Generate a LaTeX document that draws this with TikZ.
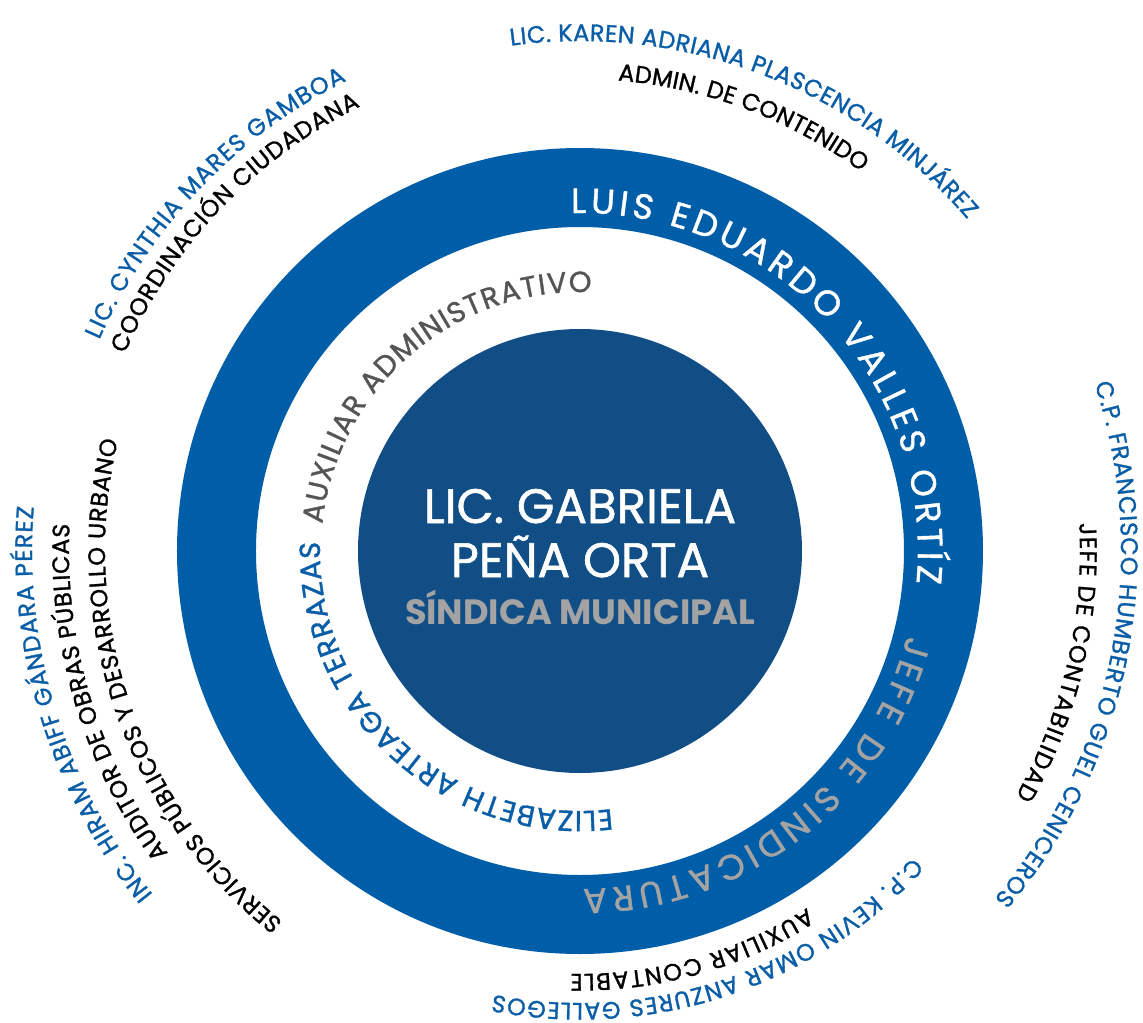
\documentclass[tikz,border=0pt]{standalone}
\usepackage{fontspec}
\setmainfont{Poppins}[UprightFeatures={FakeBold=1.2}]
\usetikzlibrary{decorations.text}

\definecolor{anillo}{RGB}{0,93,168}
\definecolor{centro}{RGB}{18,78,134}
\definecolor{grisclaro}{RGB}{163,163,163}
\definecolor{grisosc}{RGB}{85,85,85}
\definecolor{azultxt}{RGB}{10,94,168}

\newcommand{\fuenteanillo}{\fontsize{20}{20}\selectfont}
\newcommand{\fuentehueco}{\fontsize{16.5}{16.5}\selectfont}
\newcommand{\fuenteext}{\fontsize{13.6}{13.6}\selectfont}

\begin{document}
\begin{tikzpicture}[x=0.02cm, y=0.02cm]

\tikzset{curva/.style = {decorate, decoration={text along path, text align={fit to path}}}}
\tikzset{titulo/.style = {anchor=base, text=white, font=\fontsize{27.5}{27.5}\selectfont}}
\useasboundingbox (-580,-471) rectangle (563,551);
% circulos
\fill[centro] (0,0) circle (222);
\fill[anillo, even odd rule] (0,0) circle (403) (0,0) circle (324);
% centro
\node[titulo] (nombre1) at (0,28) {LIC. GABRIELA};
\node[titulo] (nombre2) at (0,-26) {PEÑA ORTA};
\node[anchor=base, text=grisclaro, font=\bfseries\fontsize{20}{20}\selectfont] (cargo) at (0,-73) {SÍNDICA MUNICIPAL};
% anillo azul
\path[curva, decoration={text={|\color{white}\fuenteanillo|LUIS EDUARDO VALLES ORTÍZ}}] (91.5:338) arc[start angle=91.5, end angle=-5.5, radius=338];
\path[curva, decoration={text={|\color{grisclaro}\fuenteanillo|JEFE DE SINDICATURA}}] (-14.5:338) arc[start angle=-14.5, end angle=-89.5, radius=338];
% hueco blanco
\path[curva, decoration={text={|\color{grisosc}\fuentehueco|AUXILIAR ADMINISTRATIVO}}] (174:259) arc[start angle=174, end angle=87.5, radius=259];
\path[curva, decoration={text={|\color{azultxt}\fuentehueco|ELIZABETH ARTEAGA TERRAZAS}}] (-83:260) arc[start angle=-83, end angle=-182, radius=260];
% exterior
\path[curva, decoration={text={|\color{azultxt}\fuenteext|LIC. KAREN ADRIANA PLASCENCIA MINJÁREZ}}] (97.8:510) arc[start angle=97.8, end angle=40.6, radius=510];
\path[curva, decoration={text={|\color{black}\fuenteext|ADMIN. DE CONTENIDO}}] (85.4:472) arc[start angle=85.4, end angle=53.4, radius=472];
\path[curva, decoration={text={|\color{azultxt}\fuenteext|LIC. CYNTHIA MARES GAMBOA}}] (156.3:525) arc[start angle=156.3, end angle=116.4, radius=525];
\path[curva, decoration={text={|\color{black}\fuenteext|COORDINACIÓN CIUDADANA}}] (156.6:496) arc[start angle=156.6, end angle=116.3, radius=496];
\path[curva, decoration={text={|\color{azultxt}\fuenteext|C.P. FRANCISCO HUMBERTO GUEL CENICEROS}}] (18:541) arc[start angle=18, end angle=-40, radius=541];
\path[curva, decoration={text={|\color{black}\fuenteext|JEFE DE CONTABILIDAD}}] (3.2:500) arc[start angle=3.2, end angle=-29.4, radius=500];
\path[curva, decoration={text={|\color{azultxt}\fuenteext|C.P. KEVIN OMAR ANZURES GALLEGOS}}] (-42.6:452) arc[start angle=-42.6, end angle=-101, radius=452];
\path[curva, decoration={text={|\color{black}\fuenteext|AUXILIAR CONTABLE}}] (-57.5:423) arc[start angle=-57.5, end angle=-91.3, radius=423];
\path[curva, decoration={text={|\color{azultxt}\fuenteext|INC. HIRAM ABIFF GÁNDARA PÉREZ}}] (218.8:548) arc[start angle=218.8, end angle=175.4, radius=548];
\path[curva, decoration={text={|\color{black}\fuenteext|AUDITOR DE OBRAS PÚBLICAS}}] (216.3:511) arc[start angle=216.3, end angle=177, radius=511];
\path[curva, decoration={text={|\color{black}\fuenteext|SERVICIOS PÚBLICOS Y DESARROLLO URBANO}}] (231.3:475) arc[start angle=231.3, end angle=166.6, radius=475];
\end{tikzpicture}
\end{document}
